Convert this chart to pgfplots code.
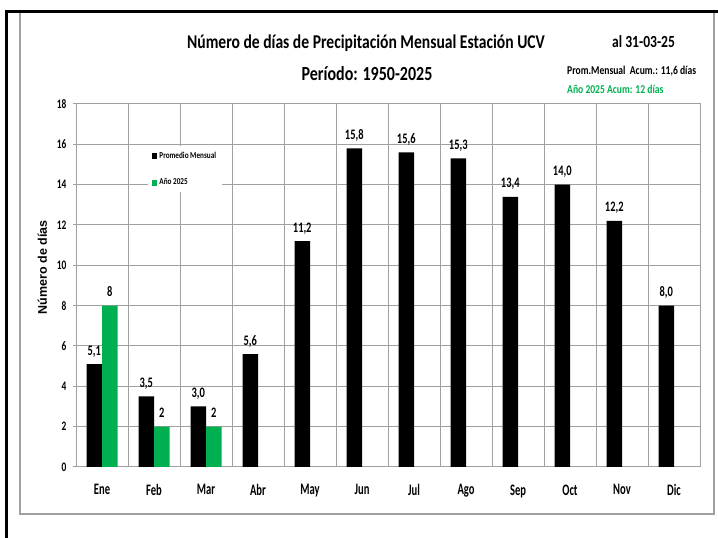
\documentclass[border=0pt]{standalone}
\usepackage{fontspec}
\setmainfont{Carlito}[FakeStretch=0.8]
\newfontfamily\narrowA{Carlito}[FakeStretch=0.72]
\newfontfamily\narrowB{Carlito}[FakeStretch=0.66]
\newfontfamily\arialb{Liberation Sans}
\usepackage{pgfplots}
\pgfplotsset{compat=1.18}
\definecolor{gr}{RGB}{0,176,80}
\definecolor{gridc}{RGB}{160,160,160}
\begin{document}
\begin{tikzpicture}[x=1pt,y=1pt]
\path[use as bounding box] (0,0) rectangle (718,538);
\draw[gridc, line width=1.3pt] (20,526) -- (20,24) -- (714,24) -- (714,526);
\draw[black, line width=3pt] (6,0) -- (6,526) -- (718,526);
\node[font=\bfseries\fontsize{19.5}{22}\selectfont, anchor=base] at (366,489) {Número de días de Precipitación Mensual Estación UCV};
\node[font=\bfseries\fontsize{20}{22}\selectfont, anchor=base] at (367,457) {Período: 1950-2025};
\node[font=\bfseries\fontsize{17}{20}\selectfont, anchor=base west, inner sep=0pt] at (612,490) {al 31-03-25};
\node[font=\bfseries\fontsize{12}{14}\selectfont, anchor=base west, inner sep=0pt] at (567,463) {Prom.Mensual\ \ Acum.: 11,6 días};
\node[font=\bfseries\fontsize{12}{14}\selectfont, anchor=base west, inner sep=0pt, text=gr] at (567,444) {Año 2025 Acum: 12 días};
\begin{axis}[
  at={(76pt,71pt)}, anchor=south west, scale only axis,
  width=624pt, height=363pt,
  xmin=-0.5, xmax=11.5, ymin=0, ymax=18,
  ytick={0,2,...,18},
  xtick={0,...,11},
  xticklabels={Ene,Feb,Mar,Abr,May,Jun,Jul,Ago,Sep,Oct,Nov,Dic},
  minor xtick={0.5,1.5,...,10.5},
  ymajorgrids, xminorgrids,
  grid style={gridc, line width=1pt},
  minor grid style={gridc, line width=1pt},
  axis line style={gridc, line width=1pt},
  xtick style={draw=none},
  minor tick length=0pt,
  ytick style={gridc, line width=1pt},
  tick align=outside, major tick length=3pt,
  ytick pos=left,
  /pgf/number format/assume math mode=true,
  yticklabel style={font=\narrowA\bfseries\fontsize{13}{15}\selectfont, text=black, xshift=-3pt},
  xticklabel style={font=\narrowB\bfseries\fontsize{16}{18}\selectfont, text=black, yshift=-11pt},
  ylabel={Número de días},
  ylabel style={at={(axis description cs:-0.054,0.55)}, rotate=0, anchor=center, font=\arialb\bfseries\fontsize{12.5}{14}\selectfont},
  ybar=0pt, bar width=15.5pt,
  legend image code/.code={\fill[#1] (0pt,-3pt) rectangle (5.5pt,3pt);},
  legend style={at={(axis description cs:0.115,0.885)}, anchor=north west, draw=none, fill=white,
     font=\bfseries\fontsize{9}{10}\selectfont, row sep=15pt, inner sep=4pt},
  legend cell align=left,
  every node near coord/.append style={font=\narrowA\bfseries\fontsize{14.5}{16}\selectfont, text=black, anchor=base, yshift=9pt},
]
\addplot[fill=black, draw=none,
  legend image code/.code={\fill[black] (0pt,-3pt) rectangle (5.5pt,3pt);},
  nodes near coords={\pgfmathprintnumber[fixed,fixed zerofill,precision=1,use comma]{\pgfplotspointmeta}}]
 coordinates {(0,5.1) (1,3.5) (2,3.0) (3,5.6) (4,11.2) (5,15.8) (6,15.6) (7,15.3) (8,13.4) (9,14.0) (10,12.2) (11,8.0)};
\addplot[fill=gr, draw=none,
  legend image code/.code={\fill[gr] (0pt,-3pt) rectangle (5.5pt,3pt);},
  nodes near coords={\pgfmathprintnumber[fixed,precision=0]{\pgfplotspointmeta}}]
 coordinates {(0,8) (1,2) (2,2)};
\legend{Promedio Mensual, Año 2025}
\end{axis}
\end{tikzpicture}
\end{document}
